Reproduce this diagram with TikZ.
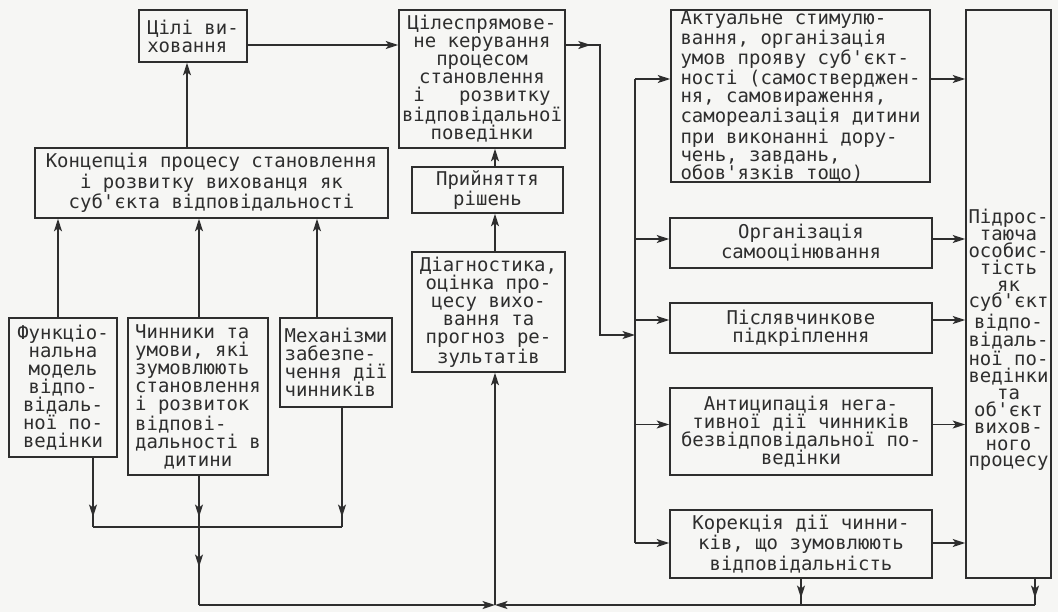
\documentclass[tikz,border=0pt]{standalone}
\usepackage{fontspec}
\newfontfamily\schemefont{DejaVu Sans Mono}
\usepackage{tikz}
\usetikzlibrary{arrows.meta, calc, decorations.markings}

\definecolor{ink}{HTML}{2E2E2E}
\definecolor{paper}{HTML}{F6F6F4}

\begin{document}
\begin{tikzpicture}[
  x=0.2mm, y=-0.2mm,
  box/.style={rectangle, draw=ink, line width=0.9pt, inner sep=0pt,
    font=\schemefont\fontsize{10.8}{10.25}\selectfont,
    text=ink, align=center},
  line/.style={draw=ink, line width=0.9pt},
  arr/.style={line, -{Stealth[length=2.5mm, width=1.6mm, inset=0.6mm]}},
  tipat/.style={postaction={decorate}, decoration={markings,
    mark=at position #1 with {\arrow{Stealth[length=2.5mm, width=1.6mm, inset=0.6mm]}}}},
]

\useasboundingbox[fill=paper] (0,0) rectangle (1058,612);

% left part
\node[box, align=left, minimum width=21.6mm, minimum height=10.4mm]
      (goal) at (193,36) {Цілі ви-\\ховання};

\node[box, minimum width=70.6mm, minimum height=14mm]
      (concept) at (211.5,183)
      {Концепція процесу становлення\\і розвитку вихованця як\\суб'єкта відповідальності};

\node[box, minimum width=21.6mm, minimum height=27.8mm]
      (func) at (63,387.5)
      {Функціо-\\нальна\\модель\\відпо-\\відаль-\\ної по-\\ведінки};

\node[box, align=left, minimum width=28mm, minimum height=31.4mm]
      (factors) at (198,396.5)
      {Чинники та\\умови, які\\зумовлюють\\становлення\\і розвиток\\відпові-\\дальності в\\\hspace*{1.5em}дитини};

\node[box, align=left, minimum width=22.4mm, minimum height=17.8mm]
      (mech) at (336,362.5)
      {Механізми\\забезпе-\\чення дії\\чинників};

% middle column
\node[box, minimum width=33.2mm, minimum height=27.6mm]
      (manage) at (482,79)
      {Цілеспрямове-\\не керування\\процесом\\становлення\\і~~~розвитку\\відповідальної\\поведінки};

\node[box, minimum width=30.2mm, minimum height=9.2mm]
      (decision) at (487.5,190) {Прийняття\\рішень};

\node[box, minimum width=30.6mm, minimum height=24mm]
      (diag) at (488.5,312)
      {Діагностика,\\оцінка про-\\цесу вихо-\\вання та\\прогноз ре-\\зультатів};

% right column
\node[box, align=left, minimum width=51.8mm, minimum height=34.4mm]
      (stim) at (800.5,96)
      {Актуальне стимулю-\\вання, організація\\умов прояву суб'єкт-\\ності (самостверджен-\\ня, самовираження,\\самореалізація дитини\\при виконанні дору-\\чень, завдань,\\обов'язків тощо)};

\node[box, minimum width=52.4mm, minimum height=10mm]
      (selfev) at (801,243) {Організація\\самооцінювання};

\node[box, minimum width=52.4mm, minimum height=10mm]
      (reinf) at (801,328) {Післявчинкове\\підкріплення};

\node[box, minimum width=52.4mm, minimum height=17.4mm]
      (antic) at (801,431.5)
      {Антиципація нега-\\тивної дії чинників\\безвідповідальної по-\\ведінки};

\node[box, minimum width=52.4mm, minimum height=13.6mm]
      (corr) at (801,544)
      {Корекція дії чинни-\\ків, що зумовлюють\\відповідальність};

\node[box, minimum width=17mm, minimum height=113.6mm]
      (person) at (1008.5,294) {};
\node[font=\schemefont\fontsize{10.8}{9.6}\selectfont, text=ink, align=center]
      (personlbl) at (1008.5,340)
      {Підрос-\\таюча\\особис-\\тість\\як\\суб'єкт\\відпо-\\відаль-\\ної по-\\ведінки\\та\\об'єкт\\вихов-\\ного\\процесу};

% junction points
\coordinate (bus) at (635,0);
\coordinate (feed) at (600,335);
\coordinate (colm) at (199,527);
\coordinate (botl) at (199,605);
\coordinate (botm) at (495,605);
\coordinate (botr) at (1035,605);

% upper links
\coordinate (gin) at ($(goal.south)+(-6,0)$);
\draw[arr] (gin |- concept.north) -- (gin);
\coordinate (goalout) at ($(goal.east)+(0,9)$);
\draw[arr] (goalout) -- (goalout -| manage.west);

\foreach \n/\d in {func/-5, factors/1, mech/-19}{
  \coordinate (u\n) at ($(\n.north)+(\d,0)$);
  \draw[arr] (u\n) -- (u\n |- concept.south);
}

% lower collector
\foreach \n/\d in {func/30, factors/1, mech/6}{
  \coordinate (d\n) at ($(\n.south)+(\d,0)$);
  \draw[line, tipat=-2mm] (d\n) -- (d\n |- colm);
}
\draw[line] (dfunc |- colm) -- (dmech |- colm);
\draw[line, tipat=-7.6mm] (dfactors |- colm) -- (botl);

\draw[arr] (botl) -- (botm);
\draw[arr] (botr) -- (botm);
\draw[arr] (botm) -- (botm |- diag.south);
\draw[arr] (botm |- diag.north) -- (botm |- decision.south);
\draw[arr] (botm |- decision.north) -- (botm |- manage.south);

\draw[line, tipat=-1.4mm] (corr.south) -- (corr.south |- botm);
\draw[line, tipat=-1.4mm] (botr |- person.south) -- (botr);

% distribution to the right column
\coordinate (mout) at ($(manage.east)+(0,-34)$);
\draw[arr, tipat=5mm] (mout) -| (feed) -- (feed -| bus);

\foreach \n/\d in {stim/-17, selfev/-4, reinf/-8, antic/-7, corr/-1}{
  \coordinate (w\n) at ($(\n.west)+(0,\d)$);
  \coordinate (e\n) at ($(\n.east)+(0,\d)$);
  \draw[arr] (bus |- w\n) -- (w\n);
  \draw[arr] (e\n) -- (e\n -| person.west);
}
\draw[line] (bus |- wstim) -- (bus |- wcorr);

\end{tikzpicture}
\end{document}
